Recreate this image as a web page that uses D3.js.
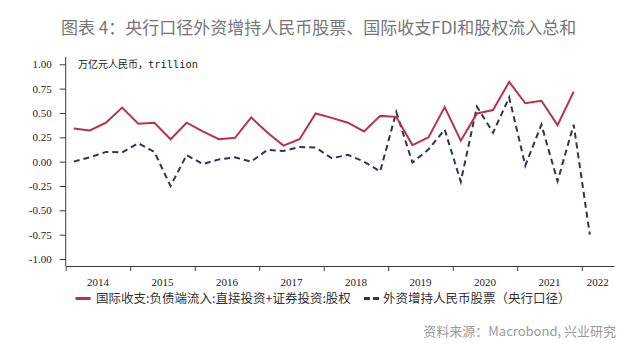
<!DOCTYPE html>
<html><head><meta charset="utf-8">
<script src="https://cdn.jsdelivr.net/npm/d3@7"></script>
<style>
html,body{margin:0;padding:0;background:#fff;}
svg{display:block;}
</style>
</head><body>
<svg id="chart" width="640" height="358"></svg>
<script>
// ---- data ----
const quarters = [];
for (let y = 2014; y <= 2022; y++) for (let q = 1; q <= 4; q++) if (!(y === 2022 && q > 2)) quarters.push(y + "Q" + q);
const years = ["2014","2015","2016","2017","2018","2019","2020","2021","2022"];
// 国际收支:负债端流入:直接投资+证券投资:股权 (2014Q1-2021Q4)
const bopEquity = [
  0.34, 0.32, 0.40, 0.555,
  0.39, 0.40, 0.23, 0.40,
  0.31, 0.23, 0.245, 0.455,
  0.30, 0.165, 0.23, 0.495,
  0.45, 0.40, 0.31, 0.47,
  0.46, 0.17, 0.25, 0.56,
  0.215, 0.495, 0.53, 0.82,
  0.60, 0.625, 0.375, 0.72
];
// 外资增持人民币股票（央行口径） (2014Q1-2022Q1)
const pbocStocks = [
  0.0, 0.045, 0.10, 0.095,
  0.19, 0.10, -0.25, 0.068,
  -0.025, 0.023, 0.044, 0.0,
  0.12, 0.11, 0.15, 0.145,
  0.035, 0.07, 0.0, -0.10,
  0.51, -0.01, 0.126, 0.33,
  -0.206, 0.565, 0.297, 0.66,
  -0.04, 0.38, -0.20, 0.38,
  -0.75
];
const yTicks = [-1, -0.75, -0.5, -0.25, 0, 0.25, 0.5, 0.75, 1];
const seriesNames = ["国际收支:负债端流入:直接投资+证券投资:股权", "外资增持人民币股票（央行口径）"];
const titleText = "图表 4：央行口径外资增持人民币股票、国际收支FDI和股权流入总和";
const unitText = "万亿元人民币，";
const unitText2 = "trillion";
const sourceText = "资料来源：Macrobond, 兴业研究";

// ---- chart ----
const svg = d3.select("#chart");
const RED = "#b8334a", NAVY = "#2c3850", AX = "#3a3a3a";
const serif = "'Liberation Serif','Times New Roman',serif";
const cjk = "'Noto Sans CJK SC','Noto Sans',sans-serif";

const x = d3.scaleLinear().domain([0, quarters.length]).range([65.7, 614]);
const y = d3.scaleLinear().domain([-1, 1]).range([259, 64.3]);
const xAxisY = 266;

svg.append("text").attr("x", 61).attr("y", 33.5)
  .attr("font-family", cjk).attr("font-size", 17).attr("font-weight", 400)
  .attr("fill", "#767676").text(titleText);

// y axis
const loc = d3.formatLocale({decimal: ".", thousands: ",", grouping: [3], currency: ["", ""], minus: "-"});
const gy = svg.append("g").attr("transform", `translate(${x(0)},0)`)
  .call(d3.axisLeft(y).tickValues(yTicks).tickFormat(loc.format(".2f")).tickSize(6).tickPadding(8));
gy.select(".domain").remove();
gy.selectAll("line").attr("stroke", AX);
gy.selectAll("text").attr("font-family", serif).attr("font-size", 11).attr("fill", "#222");
svg.append("line").attr("x1", x(0)).attr("x2", x(0)).attr("y1", 57).attr("y2", xAxisY)
  .attr("stroke", AX).attr("stroke-width", 1);

// x axis
const gx = svg.append("g").attr("transform", `translate(0,${xAxisY})`)
  .call(d3.axisBottom(x).tickValues(d3.range(0, quarters.length, 4)).tickFormat("").tickSize(5).tickSizeOuter(0));
gx.select(".domain").attr("stroke", AX);
gx.selectAll("line").attr("stroke", AX);
svg.append("g").selectAll("text").data(years).join("text")
  .attr("x", (d, i) => x(Math.min(i * 4 + 2, (i * 4 + quarters.length) / 2)))
  .attr("y", 286)
  .attr("text-anchor", "middle")
  .attr("font-family", serif).attr("font-size", 11).attr("fill", "#222")
  .text(d => d);

// unit label
const ut = svg.append("text").attr("x", 78).attr("y", 67.5).attr("fill", "#222");
ut.append("tspan").attr("font-family", cjk).attr("font-size", 10).text(unitText);
ut.append("tspan").attr("font-family", "'DejaVu Sans Mono',monospace").attr("font-size", 10.4).text(unitText2);

// lines
const line = d3.line().x((d, i) => x(i + 0.5)).y(d => y(d));
svg.append("path").datum(pbocStocks).attr("d", line)
  .attr("fill", "none").attr("stroke", NAVY).attr("stroke-width", 2)
  .attr("stroke-dasharray", "6,4");
svg.append("path").datum(bopEquity).attr("d", line)
  .attr("fill", "none").attr("stroke", RED).attr("stroke-width", 2).attr("stroke-linejoin", "miter");

// legend
const ly = 298.5;
svg.append("line").attr("x1", 75.5).attr("x2", 90.6).attr("y1", ly).attr("y2", ly)
  .attr("stroke", RED).attr("stroke-width", 3);
svg.append("text").attr("x", 96).attr("y", ly + 4.3)
  .attr("font-family", cjk).attr("font-size", 12.5).attr("fill", "#333").text(seriesNames[0]);
svg.append("line").attr("x1", 364).attr("x2", 379).attr("y1", ly).attr("y2", ly)
  .attr("stroke", NAVY).attr("stroke-width", 3).attr("stroke-dasharray", "6,3");
svg.append("text").attr("x", 383).attr("y", ly + 4.3)
  .attr("font-family", cjk).attr("font-size", 12.5).attr("fill", "#333").text(seriesNames[1]);

// source
svg.append("text").attr("x", 616).attr("y", 335.5).attr("text-anchor", "end")
  .attr("font-family", cjk).attr("font-size", 13).attr("fill", "#9a9a9a").text(sourceText);
</script>
</body></html>
